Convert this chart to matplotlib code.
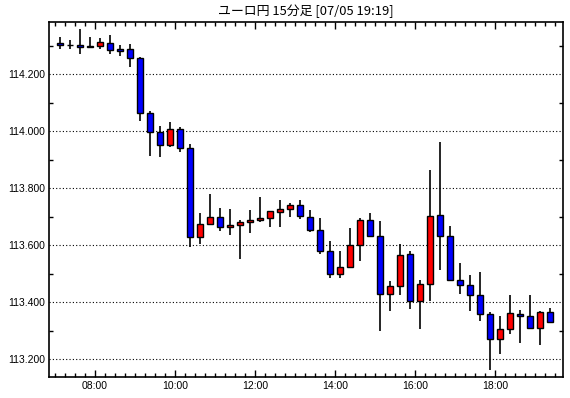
import numpy as np
import pandas as pd
import matplotlib
matplotlib.use('Agg')
import matplotlib.pyplot as plt
from matplotlib.ticker import MultipleLocator, FuncFormatter

# 15分足 OHLC (07:00 - 19:15)
times = pd.date_range("2017-07-05 07:00", periods=50, freq="15min")
opens = [114.310, 114.302, 114.303, 114.300, 114.298, 114.310, 114.289, 114.288, 114.256, 114.063,
         113.996, 113.951, 114.007, 113.940, 113.628, 113.674, 113.698, 113.663, 113.670, 113.681,
         113.688, 113.695, 113.718, 113.726, 113.740, 113.698, 113.653, 113.579, 113.498, 113.523,
         113.600, 113.688, 113.632, 113.430, 113.456, 113.568, 113.406, 113.463, 113.705, 113.632,
         113.478, 113.460, 113.425, 113.358, 113.270, 113.305, 113.358, 113.351, 113.309, 113.366]
highs = [114.332, 114.320, 114.359, 114.332, 114.327, 114.338, 114.303, 114.306, 114.261, 114.072,
         114.019, 114.033, 114.014, 113.954, 113.712, 113.779, 113.730, 113.726, 113.688, 113.724,
         113.769, 113.720, 113.759, 113.750, 113.759, 113.724, 113.695, 113.615, 113.580, 113.660,
         113.697, 113.712, 113.685, 113.475, 113.603, 113.579, 113.477, 113.864, 113.962, 113.668,
         113.539, 113.497, 113.506, 113.366, 113.352, 113.427, 113.373, 113.427, 113.371, 113.380]
lows = [114.288, 114.288, 114.270, 114.291, 114.288, 114.270, 114.264, 114.227, 114.037, 113.914,
        113.911, 113.946, 113.928, 113.595, 113.603, 113.672, 113.649, 113.637, 113.551, 113.642,
        113.681, 113.663, 113.665, 113.700, 113.693, 113.648, 113.568, 113.486, 113.486, 113.520,
        113.546, 113.628, 113.300, 113.371, 113.427, 113.378, 113.307, 113.404, 113.514, 113.478,
        113.428, 113.368, 113.333, 113.161, 113.220, 113.290, 113.258, 113.305, 113.251, 113.330]
closes = [114.302, 114.302, 114.295, 114.297, 114.312, 114.284, 114.283, 114.256, 114.063, 113.996,
          113.951, 114.007, 113.940, 113.628, 113.674, 113.698, 113.663, 113.670, 113.681, 113.689,
          113.696, 113.719, 113.726, 113.740, 113.702, 113.655, 113.579, 113.498, 113.523, 113.600,
          113.688, 113.632, 113.430, 113.456, 113.565, 113.406, 113.463, 113.702, 113.632, 113.479,
          113.460, 113.425, 113.358, 113.270, 113.305, 113.362, 113.351, 113.309, 113.366, 113.330]

df = pd.DataFrame({"open": opens, "high": highs, "low": lows, "close": closes}, index=times)

# x軸は時間(h)、ローソクは足の中央に置く
hours = df.index.hour + df.index.minute / 60.0
xc = np.asarray(hours) + 0.125

fig = plt.figure(figsize=(5.7, 3.98), dpi=100)
ax = fig.add_axes([49 / 570, 21 / 398, 514 / 570, 355 / 398])

colors = np.where(df["close"] > df["open"], "#FF0000", "#0000FF")

ax.vlines(xc, df["low"], df["high"], color="black", linewidth=1.2, zorder=2)
bottom = np.minimum(df["open"], df["close"])
height = np.abs(df["close"] - df["open"])
ax.bar(xc, height, width=0.17, bottom=bottom, color=colors,
       edgecolor="black", linewidth=1.0, zorder=3)

ax.set_xlim(6.85, 19.7)
ax.set_ylim(113.138, 114.3835)

ax.yaxis.set_major_locator(MultipleLocator(0.2))
ax.yaxis.set_minor_locator(MultipleLocator(0.1))
ax.yaxis.set_major_formatter(FuncFormatter(lambda v, p: f"{v:.3f}"))
ax.xaxis.set_major_locator(MultipleLocator(2))
ax.xaxis.set_minor_locator(MultipleLocator(0.25))
ax.xaxis.set_major_formatter(FuncFormatter(lambda v, p: f"{int(round(v)):02d}:00"))

ax.grid(axis="y", which="major", color="black", linestyle=(0, (1, 2)), linewidth=0.8)

ax.tick_params(which="both", direction="in", top=True, right=True, color="black",
               labelsize=7.5, pad=3, width=1)
ax.tick_params(axis="x", which="major", length=5)
ax.tick_params(axis="x", which="minor", length=3)
ax.tick_params(axis="y", which="major", length=0)
ax.tick_params(axis="y", which="minor", length=3)
for lbl in ax.get_xticklabels() + ax.get_yticklabels():
    lbl.set_family("Liberation Sans")

for s in ax.spines.values():
    s.set_linewidth(1.2)
    s.set_color("black")

fig.text(306 / 570, 1 - 11 / 398, "ユーロ円 15分足 [07/05 19:19]",
         ha="center", va="center", fontsize=9.3, family=["Noto Sans CJK JP", "DejaVu Sans"])

fig.savefig("out.png", dpi=100)
